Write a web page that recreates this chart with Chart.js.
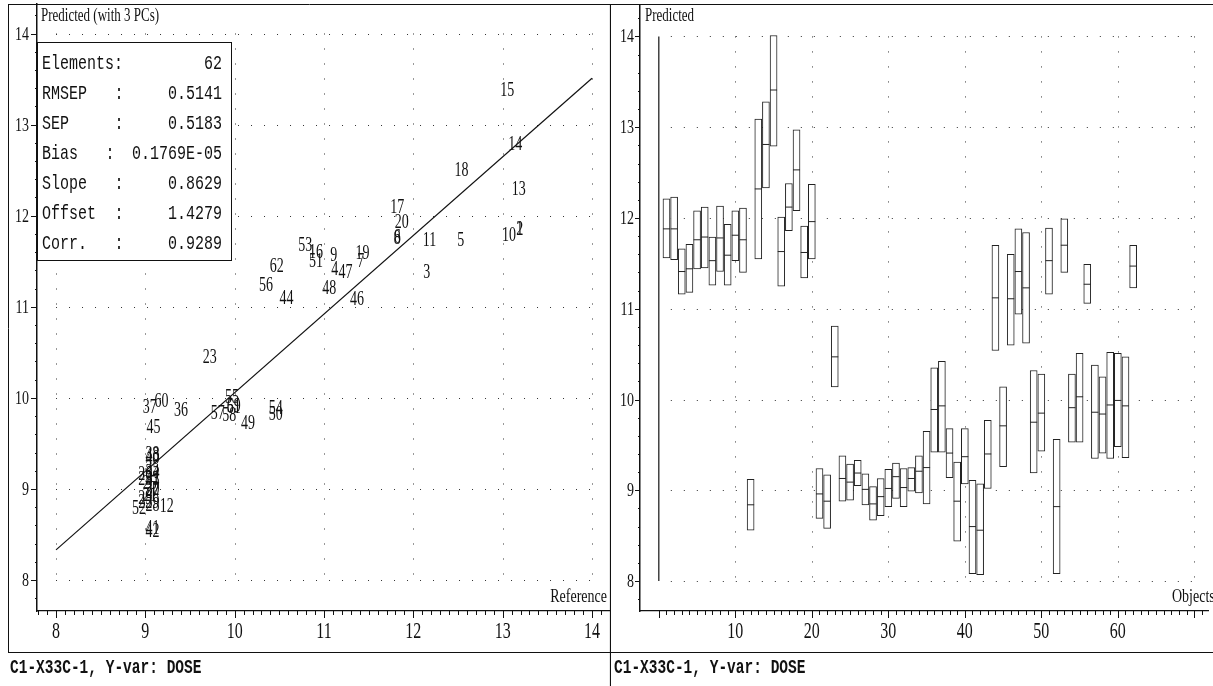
<!DOCTYPE html>
<html><head><meta charset="utf-8">
<script src="https://cdn.jsdelivr.net/npm/chart.js@4.4.0/dist/chart.umd.min.js"></script>
<style>
html,body{margin:0;padding:0;background:#fff;}
#wrap{position:relative;width:1213px;height:686px;overflow:hidden;background:#fff;}
#c1{position:absolute;left:0;top:0;}
#c2{position:absolute;left:611px;top:0;}
</style></head><body>
<div id="wrap"><canvas id="c1" width="611" height="686"></canvas><canvas id="c2" width="602" height="686"></canvas></div>
<script>
// ---------------- data ----------------
const objectIds = [1,2,3,4,5,6,7,8,9,10,11,12,13,14,15,16,17,18,19,20,21,22,23,24,25,26,27,28,29,30,31,32,33,34,35,36,37,38,39,40,41,42,43,44,45,46,47,48,49,50,51,52,53,54,55,56,57,58,59,60,61,62];
const referenceValues = [13.19,13.19,12.15,11.12,12.53,11.82,11.41,11.82,11.11,13.07,
  12.18,9.24,13.18,13.14,13.05,10.91,11.82,12.54,11.43,11.87,
  9.05,9.00,9.72,9.00,9.05,9.00,9.08,9.08,9.00,9.08,
  9.08,9.08,9.08,9.08,9.08,9.40,9.05,9.08,9.08,9.08,
  9.08,9.08,9.08,10.58,9.09,11.37,11.24,11.06,10.15,10.46,
  10.91,8.93,10.79,10.46,9.97,10.35,9.81,9.94,9.99,9.18,
  9.99,10.47];
const predictedValues = [11.88,11.88,11.41,11.44,11.76,11.79,11.53,11.78,11.59,11.81,
  11.76,8.84,12.32,12.81,13.41,11.63,12.12,12.53,11.62,11.96,
  8.96,8.88,10.47,9.13,9.09,9.19,9.01,8.85,8.93,9.02,
  9.15,9.03,9.13,9.21,9.25,9.89,9.93,9.41,8.88,9.37,
  8.60,8.56,9.40,11.12,9.71,11.11,11.41,11.23,9.75,9.85,
  11.53,8.82,11.70,9.91,10.03,11.27,9.86,9.84,9.94,9.99,
  9.93,11.47];
const predictedLow = [11.56,11.54,11.16,11.18,11.44,11.45,11.26,11.41,11.26,11.53,
  11.40,8.56,11.55,12.33,12.79,11.25,11.86,12.08,11.34,11.55,
  8.69,8.58,10.14,8.88,8.89,9.05,8.84,8.67,8.72,8.82,
  8.91,8.82,8.99,8.97,8.85,9.42,9.42,9.14,8.44,9.07,
  8.08,8.07,9.02,10.54,9.26,10.60,10.94,10.62,9.19,9.43,
  11.16,8.08,11.40,9.53,9.53,11.06,9.35,9.41,9.35,9.48,
  9.36,11.23];
const predictedHigh = [12.21,12.23,11.66,11.71,12.08,12.12,11.79,12.13,11.93,12.08,
  12.11,9.12,13.09,13.28,14.01,12.01,12.38,12.97,11.91,12.37,
  9.24,9.17,10.81,9.38,9.29,9.33,9.18,9.04,9.13,9.23,
  9.30,9.24,9.25,9.38,9.65,10.35,10.42,9.68,9.31,9.68,
  9.11,9.07,9.77,11.70,10.14,11.60,11.88,11.84,10.32,10.28,
  11.89,9.56,11.99,10.28,10.51,11.49,10.38,10.25,10.52,10.51,
  10.47,11.70];
const statLabels = ['Elements:','RMSEP','SEP','Bias','Slope','Offset','Corr.'];
const statValues = ['62','0.5141','0.5183','0.1769E-05','0.8629','1.4279','0.9289'];
const fitSlope = 0.8629;
const fitOffset = 1.4279;
const fitRange = [8, 14];
const leftTicksX = [8,9,10,11,12,13,14];
const leftTicksY = [8,9,10,11,12,13,14];
const rightTicksX = [10,20,30,40,50,60];
const rightGridX = [10,20,30,40,50,60,70];
const rightTicksY = [8,9,10,11,12,13,14];
const footerText = 'C1-X33C-1, Y-var: DOSE';

// ---------------- helpers ----------------
const SERIF = '"Liberation Serif","Times New Roman",serif';
const MONO = '"Liberation Mono","Courier New",monospace';
const pa = v => Math.round(v) + 0.5;
function sText(ctx, s, x, y, font, align, sy) {
  ctx.save();
  ctx.font = font; ctx.textAlign = align; ctx.textBaseline = 'middle'; ctx.fillStyle = '#111';
  ctx.translate(x, y); ctx.scale(1, sy); ctx.fillText(s, 0, 0);
  ctx.restore();
}
function line(ctx, x1, y1, x2, y2, w, dash, color) {
  ctx.save();
  ctx.setLineDash(dash || []);
  ctx.strokeStyle = color || '#111'; ctx.lineWidth = w || 1;
  ctx.beginPath(); ctx.moveTo(x1, y1); ctx.lineTo(x2, y2); ctx.stroke();
  ctx.restore();
}
const GRIDC = '#333';

// ---------------- left chart ----------------
const leftDecor = {
  id: 'leftDecor',
  beforeDatasetsDraw(chart) {
    const {ctx, scales: {x, y}} = chart;
    const gx0 = x.getPixelForValue(leftTicksX[0]), gx1 = x.getPixelForValue(leftTicksX[leftTicksX.length-1]);
    const gy0 = y.getPixelForValue(leftTicksY[0]), gy1 = y.getPixelForValue(leftTicksY[leftTicksY.length-1]);
    leftTicksY.forEach(v => { const yy = pa(y.getPixelForValue(v)); line(ctx, gx0, yy, gx1, yy, 1, [1, 12], GRIDC); });
    leftTicksX.forEach(v => { const xx = pa(x.getPixelForValue(v)); line(ctx, xx, gy1, xx, gy0, 1, [1, 14], GRIDC); });
    // statistics box
    const bx = 37, by = 42, bw = 194, bh = 218;
    ctx.save(); ctx.fillStyle = '#fff'; ctx.fillRect(bx, by, bw, bh);
    ctx.strokeStyle = '#111'; ctx.lineWidth = 1; ctx.strokeRect(bx + 0.5, by + 0.5, bw, bh); ctx.restore();
    const f = '15px ' + MONO;
    statLabels.forEach((lab, i) => {
      const ry = 63 + i * 30;
      sText(ctx, lab, 42, ry, f, 'left', 1.4);
      if (i > 0) sText(ctx, ':', lab === 'Bias' ? 110 : 119, ry, f, 'center', 1.4);
      sText(ctx, statValues[i], 222, ry, f, 'right', 1.4);
    });
  },
  afterDatasetsDraw(chart) {
    const {ctx} = chart;
    const meta = chart.getDatasetMeta(1);
    meta.data.forEach((el, i) => {
      sText(ctx, String(objectIds[i]), el.x, el.y + 3, '14px ' + SERIF, 'center', 1.45);
    });
  },
  afterDraw(chart) {
    const {ctx, scales: {x, y}, chartArea: ca} = chart;
    // frame
    line(ctx, 8.5, 4, 8.5, 653, 1);
    line(ctx, 8, 4.5, 611, 4.5, 1);
    line(ctx, 610.5, 4, 610.5, 686, 1.2);
    line(ctx, 8, 652.5, 611, 652.5, 1.2);
    // y ticks
    const ax = ca.left;
    for (let v = 7.8; v <= 14.3; v += 0.2) {
      const yy = pa(y.getPixelForValue(v));
      line(ctx, ax - 2, yy, ax, yy, 1);
    }
    leftTicksY.forEach(v => {
      const yy = pa(y.getPixelForValue(v));
      line(ctx, ax - 6, yy, ax, yy, 1);
      sText(ctx, String(v), ax - 8, yy, '14px ' + SERIF, 'right', 1.4);
    });
    // x ticks
    const ay = ca.bottom;
    for (let k = 78; k <= 142; k++) {
      const xx = pa(x.getPixelForValue(k / 10));
      line(ctx, xx, ay, xx, ay + (k % 10 === 0 ? 7 : 4), 1);
    }
    leftTicksX.forEach(v => {
      sText(ctx, String(v), x.getPixelForValue(v), 632, '16px ' + SERIF, 'center', 1.4);
    });
    // titles
    sText(ctx, 'Predicted (with 3 PCs)', 41, 16, '13px ' + SERIF, 'left', 1.45);
    sText(ctx, 'Reference', 607, 597, '14px ' + SERIF, 'right', 1.4);
    sText(ctx, footerText, 10, 668, 'bold 14.5px ' + MONO, 'left', 1.35);
  }
};

new Chart(document.getElementById('c1'), {
  type: 'scatter',
  data: {
    datasets: [
      { type: 'line', data: fitRange.map(v => ({x: v, y: fitOffset + fitSlope * v})),
        borderColor: '#111', borderWidth: 1.2, pointRadius: 0, fill: false, tension: 0 },
      { type: 'scatter', data: referenceValues.map((r, i) => ({x: r, y: predictedValues[i]})),
        pointRadius: 0, pointHoverRadius: 0 }
    ]
  },
  options: {
    responsive: false, animation: false, devicePixelRatio: 1,
    layout: {padding: {left: 37, top: 4, right: 1, bottom: 75}},
    plugins: {legend: {display: false}, tooltip: {enabled: false}},
    events: [],
    scales: {
      x: {type: 'linear', min: 7.787, max: 14.2015, offset: false,
          afterFit: s => { s.height = 0; }, ticks: {display: false},
          grid: {display: false}, border: {display: true, color: '#111', width: 1.2}},
      y: {type: 'linear', min: 7.66, max: 14.324,
          afterFit: s => { s.width = 0; }, ticks: {display: false},
          grid: {display: false}, border: {display: true, color: '#111', width: 1.5}}
    }
  },
  plugins: [leftDecor]
});

// ---------------- right chart ----------------
const rightDecor = {
  id: 'rightDecor',
  beforeDatasetsDraw(chart) {
    const {ctx, scales: {x, y}} = chart;
    const gx0 = x.getPixelForValue(0), gx1 = x.getPixelForValue(rightGridX[rightGridX.length-1]);
    const gy0 = y.getPixelForValue(rightTicksY[0]), gy1 = y.getPixelForValue(rightTicksY[rightTicksY.length-1]);
    rightTicksY.forEach(v => { const yy = pa(y.getPixelForValue(v)); line(ctx, gx0 + 12, yy, gx1, yy, 1, [1, 12], GRIDC); });
    rightGridX.forEach(v => { const xx = pa(x.getPixelForValue(v)); line(ctx, xx, gy1, xx, gy0, 1, [1, 14], GRIDC); });
  },
  afterDraw(chart) {
    const {ctx, scales: {x, y}, chartArea: ca} = chart;
    line(ctx, 0, 4.5, 602, 4.5, 1);
    line(ctx, 0, 652.5, 602, 652.5, 1.2);
    const ax = ca.left;
    for (let v = 7.8; v <= 14.3; v += 0.2) {
      const yy = pa(y.getPixelForValue(v));
      line(ctx, ax - 2, yy, ax, yy, 1);
    }
    rightTicksY.forEach(v => {
      const yy = pa(y.getPixelForValue(v));
      line(ctx, ax - 5, yy, ax, yy, 1);
      sText(ctx, String(v), ax - 6, yy, '14px ' + SERIF, 'right', 1.4);
    });
    const ay = ca.bottom;
    for (let k = 0; k <= 71; k++) {
      const xx = pa(x.getPixelForValue(k));
      line(ctx, xx, ay, xx, ay + (k % 10 === 0 ? 7 : 4), 1);
    }
    rightTicksX.forEach(v => {
      sText(ctx, String(v), x.getPixelForValue(v), 632, '16px ' + SERIF, 'center', 1.4);
    });
    sText(ctx, 'Predicted', 34, 16, '13px ' + SERIF, 'left', 1.45);
    sText(ctx, 'Objects', 561, 597, '14px ' + SERIF, 'left', 1.4);
    sText(ctx, footerText, 3, 668, 'bold 14.5px ' + MONO, 'left', 1.35);
  }
};

new Chart(document.getElementById('c2'), {
  type: 'bar',
  data: {
    datasets: [
      { type: 'scatter', data: objectIds.map((o, i) => ({x: o, y: predictedValues[i]})),
        pointStyle: 'line', pointRadius: 3.5, pointHoverRadius: 3.5, pointBorderWidth: 1,
        borderColor: '#222', backgroundColor: '#222' },
      { type: 'bar', data: objectIds.map((o, i) => ({x: o, y: [predictedLow[i], predictedHigh[i]]})),
        barThickness: 7, backgroundColor: '#fff', borderColor: '#222', borderWidth: 1, borderSkipped: false },
      { type: 'line', data: [{x: 0, y: rightTicksY[0]}, {x: 0, y: rightTicksY[rightTicksY.length-1]}],
        borderColor: '#111', borderWidth: 1.2, pointRadius: 0, fill: false }
    ]
  },
  options: {
    responsive: false, animation: false, devicePixelRatio: 1,
    layout: {padding: {left: 29, top: 4, right: 0, bottom: 75}},
    plugins: {legend: {display: false}, tooltip: {enabled: false}},
    events: [],
    scales: {
      x: {type: 'linear', min: -2.46, max: 71.85, offset: false,
          afterFit: s => { s.height = 0; }, ticks: {display: false},
          grid: {display: false, offset: false}, border: {display: true, color: '#111', width: 1.2}},
      y: {type: 'linear', min: 7.67, max: 14.352, beginAtZero: false,
          afterFit: s => { s.width = 0; }, ticks: {display: false},
          grid: {display: false}, border: {display: true, color: '#111', width: 1.5}}
    }
  },
  plugins: [rightDecor]
});
</script>
</body></html>
